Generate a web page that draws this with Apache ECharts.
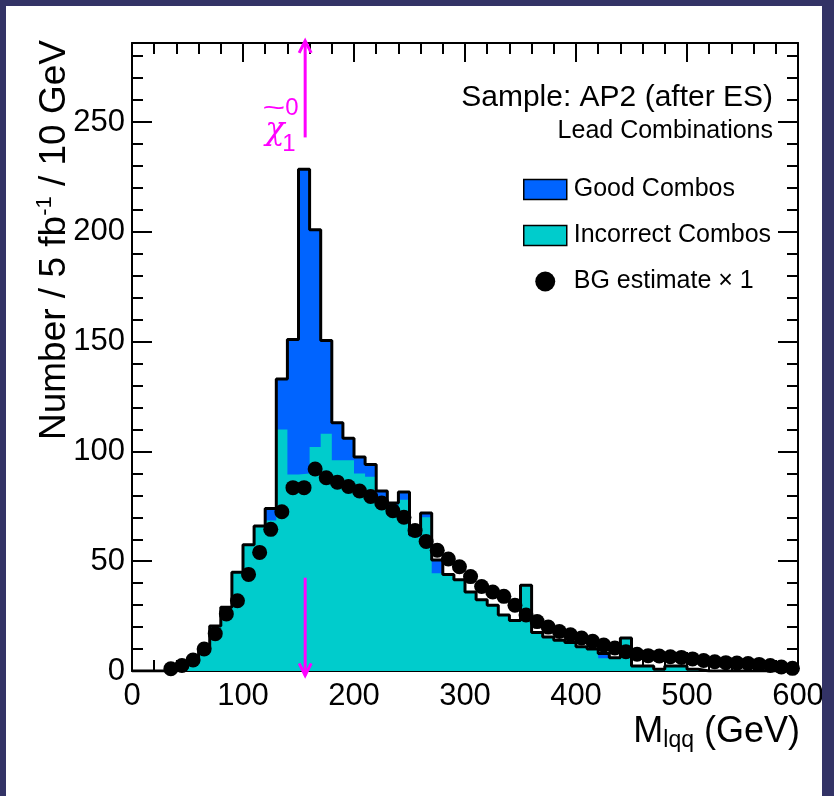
<!DOCTYPE html>
<html>
<head>
<meta charset="utf-8">
<script src="https://cdn.jsdelivr.net/npm/echarts@6/dist/echarts.min.js"></script>
<style>
html,body{margin:0;padding:0;background:#fff;}
#chart{position:absolute;left:0;top:0;width:834px;height:796px;}
</style>
</head>
<body>
<div id="chart"></div>
<script>
// ---------------- data ----------------
const binLow = [0,10,20,30,40,50,60,70,80,90,100,110,120,130,140,150,160,170,180,190,
  200,210,220,230,240,250,260,270,280,290,300,310,320,330,340,350,360,370,380,390,
  400,410,420,430,440,450,460,470,480,490,500,510,520,530,540,550,560,570,580,590];
const binEnd = 600;
const incorrectCombos = [0,0,0,0.5,1.5,4,10,20.5,29,45,57.5,66,68.5,110,89.5,90,102,108,96,96,
  90,88.5,77.5,74.5,78,61,70,44.5,43.5,41.5,36,32.5,30,25.5,23,39,17.5,15.5,14,13,
  11,10,5.8,6,15,2.3,2.3,0.8,2.3,2.3,0.8,0,0,0,0,0,0,0,0,0];
const goodCombos = [0,0,0,0,0,0,0,0,0,0,0,0,5.5,23,61.5,138.5,99,42.5,17,10,
  7.5,5.5,4.5,2,3.5,1,2,6,0.5,0,0,0,0,0,0,0,0,0,0,0,
  0,0,2.2,0,0,0,0,0,0,0,0,0,0,0,0,0,0,0,0,0];
const bgCenter = [5,15,25,35,45,55,65,75,85,95,105,115,125,135,145,155,165,175,185,195,
  205,215,225,235,245,255,265,275,285,295,305,315,325,335,345,355,365,375,385,395,
  405,415,425,435,445,455,465,475,485,495,505,515,525,535,545,555,565,575,585,595];
const bgEstimate = [null,null,null,1,2.5,5,10,17,26,32,44,54,64.5,72.5,83.5,83.5,92,88,86,84,
  82,79.5,76.5,73,70,64,59,55,51,47.5,43,38.5,36,34,30,25.5,22.5,20,18,16.5,
  15,13.5,11.8,10.5,8.8,7.6,7,6.8,6.5,6.2,5.5,4.8,4.2,3.8,3.6,3.4,3,2.5,1.8,1.2];
// neutralino mass marker (GeV) and arrow extents (value units)
const markerMass = 156;
const arrowSpans = [[243, 287], [42.5, -2]];
const xMin = 0, xMax = 600, xStep = 100;
const yMin = 0, yMax = 286, yStep = 50, yMinorStep = 10;

// ---------------- styling ----------------
const FF = '"Liberation Sans", Arial, Helvetica, sans-serif';
const BLUE = '#0064ff';
const CYAN = '#00cccc';
const MAG = '#ff00ff';
const NAVY = '#333366';

const totals = incorrectCombos.map((v, i) => v + goodCombos[i]);
const stepPts = arr => binLow.map((x, i) => [x, arr[i]]).concat([[binEnd, 0]]);
const totalPts = stepPts(totals);
const cyanPts = stepPts(incorrectCombos);
const bgPts = bgCenter.map((x, i) => [x, bgEstimate[i]]).filter(p => p[1] !== null);
const arrowData = arrowSpans.map(s => [markerMass, s[0], s[1]]);

const chart = echarts.init(document.getElementById('chart'), null, {renderer: 'canvas'});

const axisLineStyle = {color: '#000', width: 2};
function xAx(pos, showLabel) {
  return {
    type: 'value', position: pos, min: xMin, max: xMax, interval: xStep,
    axisLine: {show: true, onZero: false, lineStyle: axisLineStyle},
    axisTick: {show: true, inside: true, length: 19, lineStyle: {color: '#000', width: 2}},
    minorTick: {show: true, splitNumber: 5, length: 11, lineStyle: {color: '#000', width: 2}},
    axisLabel: {show: showLabel, margin: 10, fontSize: 31, color: '#000', fontFamily: FF},
    splitLine: {show: false}, minorSplitLine: {show: false}
  };
}
function yAx(pos, step, len, showLabel, showLine) {
  return {
    type: 'value', position: pos, min: yMin, max: yMax, interval: step,
    axisLine: {show: showLine, onZero: false, lineStyle: axisLineStyle},
    axisTick: {show: true, inside: true, length: len, lineStyle: {color: '#000', width: 2}},
    minorTick: {show: false},
    axisLabel: {show: showLabel, showMaxLabel: false, margin: 7, fontSize: 31, color: '#000', fontFamily: FF},
    splitLine: {show: false}
  };
}

const option = {
  animation: false,
  backgroundColor: '#fff',
  grid: {left: 132, top: 43, width: 666, height: 628, containLabel: false, outerBoundsMode: 'none'},
  xAxis: [xAx('bottom', true), xAx('top', false)],
  yAxis: [
    yAx('left', yStep, 20, true, true),
    yAx('right', yStep, 20, false, true),
    yAx('left', yMinorStep, 11, false, false),
    yAx('right', yMinorStep, 11, false, false)
  ],
  legend: {
    orient: 'vertical', left: 523, top: 177, padding: 0,
    itemWidth: 43, itemHeight: 20, itemGap: 21, selectedMode: false,
    textStyle: {fontSize: 25, color: '#000', fontFamily: FF, lineHeight: 24, padding: [0, 0, 0, 2]},
    data: [
      {name: 'Good Combos', icon: 'rect', itemStyle: {color: BLUE, borderColor: '#000', borderWidth: 1.5}},
      {name: 'Incorrect Combos', icon: 'rect', itemStyle: {color: CYAN, borderColor: '#000', borderWidth: 1.5}},
      {name: 'BG estimate \u00d7 1', icon: 'circle', itemStyle: {color: '#000', opacity: 1}}
    ]
  },
  series: [
    {name: 'Good Combos', type: 'line', step: 'end', data: totalPts, symbol: 'none',
     itemStyle: {color: BLUE}, lineStyle: {width: 0, opacity: 0},
     areaStyle: {color: BLUE, opacity: 1}, z: 1},
    {name: 'Incorrect Combos', type: 'line', step: 'end', data: cyanPts, symbol: 'none',
     itemStyle: {color: CYAN}, lineStyle: {width: 0, opacity: 0},
     areaStyle: {color: CYAN, opacity: 1}, z: 2},
    {name: 'outline', type: 'line', step: 'end', data: totalPts, symbol: 'none',
     lineStyle: {color: '#000', width: 3}, itemStyle: {color: '#000'}, z: 3},
    {name: 'BG estimate \u00d7 1', type: 'scatter', data: bgPts, symbol: 'circle', symbolSize: 15,
     itemStyle: {color: '#000', opacity: 1}, z: 4},
    {name: 'marker', type: 'custom', data: arrowData, clip: false, z: 6,
     encode: {x: 0, y: [1, 2]},
     renderItem: function (params, api) {
       const x = api.value(0), y0 = api.value(1), y1 = api.value(2);
       const p0 = api.coord([x, y0]), p1 = api.coord([x, y1]);
       const dir = p1[1] > p0[1] ? 1 : -1;
       const hw = 6, hl = 12;
       return {type: 'group', children: [
         {type: 'line', shape: {x1: p0[0], y1: p0[1], x2: p1[0], y2: p1[1]},
          style: {stroke: MAG, lineWidth: 3}},
         {type: 'polyline', shape: {points: [[p1[0] - hw, p1[1] - dir * hl], [p1[0], p1[1]], [p1[0] + hw, p1[1] - dir * hl]]},
          style: {stroke: MAG, lineWidth: 3, fill: null}}
       ]};
     }}
  ],
  graphic: [
    {type: 'rect', shape: {x: 0, y: 0, width: 6, height: 796}, style: {fill: NAVY}, z: 100},
    {type: 'rect', shape: {x: 0, y: 0, width: 834, height: 6}, style: {fill: NAVY}, z: 100},
    {type: 'rect', shape: {x: 822, y: 0, width: 12, height: 796}, style: {fill: NAVY}, z: 100},
    {type: 'text', x: 773, y: 98, z: 50,
     style: {text: 'Sample: AP2 (after ES)', fontSize: 30, fontFamily: FF, fill: '#000', align: 'right', verticalAlign: 'middle'}},
    {type: 'text', x: 773, y: 131, z: 50,
     style: {text: 'Lead Combinations', fontSize: 25, fontFamily: FF, fill: '#000', align: 'right', verticalAlign: 'middle'}},
    {type: 'text', x: 55, y: 240, rotation: Math.PI / 2, z: 50,
     style: {text: '{a|Number / 5 fb}{s|-1}{a| / 10 GeV}', align: 'center', verticalAlign: 'middle',
       rich: {a: {fontSize: 37, fontFamily: FF, fill: '#000', color: '#000', lineHeight: 42},
              s: {fontSize: 22, fontFamily: FF, fill: '#000', color: '#000', lineHeight: 18, verticalAlign: 'top'}}}},
    {type: 'text', x: 800, y: 732, z: 50,
     style: {text: '{m|M}{s|lqq}{m| (GeV)}', align: 'right', verticalAlign: 'middle',
       rich: {m: {fontSize: 36, fontFamily: FF, fill: '#000', color: '#000', lineHeight: 40},
              s: {fontSize: 23, fontFamily: FF, fill: '#000', color: '#000', lineHeight: 16, verticalAlign: 'bottom'}}}},
    {type: 'text', x: 275, y: 131, z: 50,
     style: {text: '\u03c7', fontSize: 32, fontFamily: '"DejaVu Serif", serif', fontStyle: 'italic', fill: MAG, align: 'center', verticalAlign: 'middle'}},
    {type: 'text', x: 274, y: 109, scaleX: 1.5, originX: 0, originY: 0, z: 50,
     style: {text: '~', fontSize: 26, fontFamily: FF, fill: MAG, align: 'center', verticalAlign: 'middle'}},
    {type: 'text', x: 292, y: 108, z: 50,
     style: {text: '0', fontSize: 24, fontFamily: FF, fill: MAG, align: 'center', verticalAlign: 'middle'}},
    {type: 'text', x: 289, y: 144, z: 50,
     style: {text: '1', fontSize: 24, fontFamily: FF, fill: MAG, align: 'center', verticalAlign: 'middle'}}
  ]
};
chart.setOption(option);
</script>
</body>
</html>
